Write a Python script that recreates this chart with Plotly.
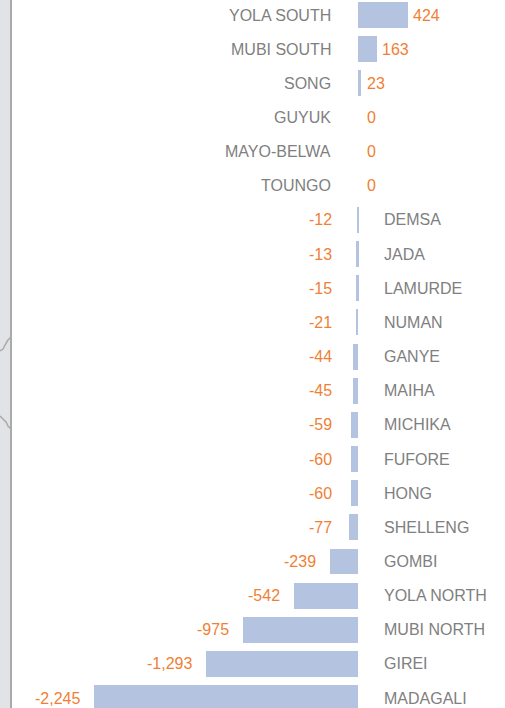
import plotly.graph_objects as go

districts = ["YOLA SOUTH", "MUBI SOUTH", "SONG", "GUYUK", "MAYO-BELWA", "TOUNGO",
             "DEMSA", "JADA", "LAMURDE", "NUMAN", "GANYE", "MAIHA", "MICHIKA",
             "FUFORE", "HONG", "SHELLENG", "GOMBI", "YOLA NORTH", "MUBI NORTH",
             "GIREI", "MADAGALI"]
values = [424, 163, 23, 0, 0, 0, -12, -13, -15, -21, -44, -45, -59, -60, -60,
          -77, -239, -542, -975, -1293, -2245]

W, H = 505, 708
BAR = "#b3c3e0"
ORANGE = "#f07f35"
GRAY = "#808080"
FONT = "Liberation Sans, Arial, sans-serif"

idx = list(range(len(districts)))

fig = go.Figure()
fig.add_trace(go.Bar(
    x=values, y=idx, orientation="h", width=0.76,
    marker=dict(color=BAR, line=dict(width=0)),
    hoverinfo="skip", showlegend=False,
))

ann = []
for i, (name, v) in enumerate(zip(districts, values)):
    fmt = f"{v:,}"
    if v >= 0:
        ann.append(dict(x=0, y=i, text=name, xanchor="right", xshift=-25,
                        font=dict(color=GRAY, size=16, family=FONT)))
        ann.append(dict(x=max(v, 30), y=i, text=fmt, xanchor="left", xshift=3,
                        font=dict(color=ORANGE, size=16, family=FONT)))
    else:
        ann.append(dict(x=0, y=i, text=name, xanchor="left", xshift=24,
                        font=dict(color=GRAY, size=16, family=FONT)))
        ann.append(dict(x=min(v, -102), y=i, text=fmt, xanchor="right", xshift=-12,
                        font=dict(color=ORANGE, size=16, family=FONT)))
for a in ann:
    a.update(xref="x", yref="y", showarrow=False, yanchor="middle")

def py(p):
    return 1 - p / H

def px(p):
    return p / W

shapes = [
    dict(type="rect", xref="paper", yref="paper", x0=0, x1=px(10.5), y0=0, y1=1,
         fillcolor="#e2e3e6", line=dict(width=0), layer="below"),
    dict(type="line", xref="paper", yref="paper", x0=px(11), x1=px(11), y0=0, y1=1,
         line=dict(color="#aaaaaa", width=2)),
    dict(type="path", xref="paper", yref="paper",
         path=f"M {px(11)},{py(337)} L {px(8)},{py(340)} L {px(5)},{py(345)} L {px(3)},{py(349)} L 0,{py(351)}",
         line=dict(color="#aaaaaa", width=1.5)),
    dict(type="path", xref="paper", yref="paper",
         path=f"M 0,{py(416)} L {px(3)},{py(419)} L {px(6)},{py(422)} L {px(8)},{py(426)} L {px(11)},{py(429)}",
         line=dict(color="#aaaaaa", width=1.5)),
]

fig.update_layout(
    width=W, height=H,
    margin=dict(l=0, r=0, t=0, b=0),
    paper_bgcolor="white", plot_bgcolor="white",
    xaxis=dict(range=[-3047, 1251], visible=False, fixedrange=True),
    yaxis=dict(range=[20.29, -0.44], visible=False, fixedrange=True),
    annotations=ann, shapes=shapes,
    bargap=0,
)

fig.write_html("out.html", config={"displayModeBar": False})
